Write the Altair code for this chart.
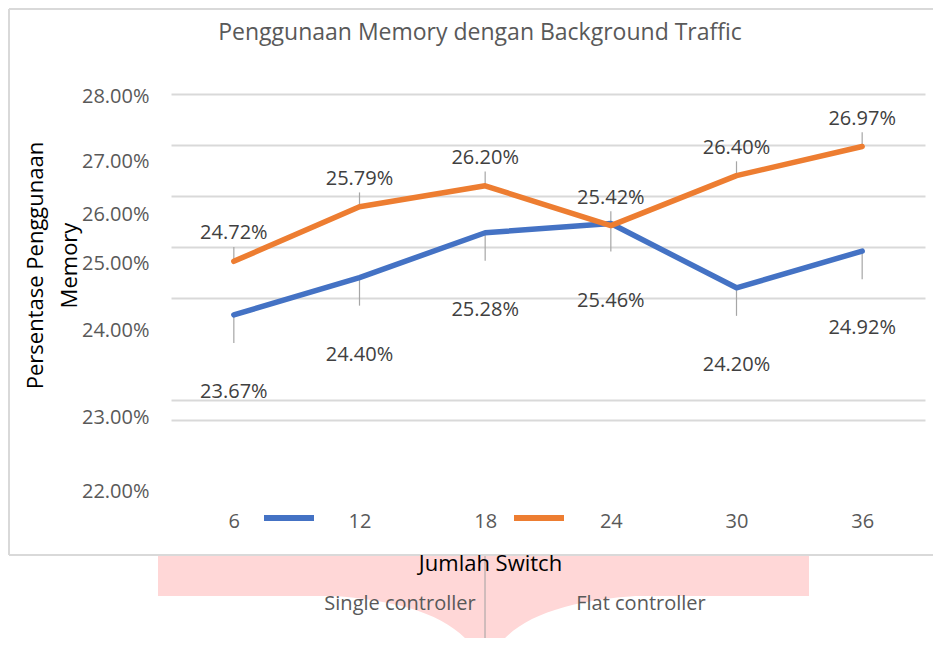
import altair as alt
import pandas as pd

# ---------------- data ----------------
SWITCHES = ["6", "12", "18", "24", "30", "36"]
SERIES = ["Single controller", "Flat controller"]
SINGLE = [23.67, 24.40, 25.28, 25.46, 24.20, 24.92]
FLAT = [24.72, 25.79, 26.20, 25.42, 26.40, 26.97]
Y_TICKS = [22, 23, 24, 25, 26, 27, 28]
TITLE = "Penggunaan Memory dengan Background Traffic"
X_TITLE = "Jumlah Switch"
Y_TITLE = ["Persentase Penggunaan", "Memory"]

rows = []
for s, vals in zip(SERIES, [SINGLE, FLAT]):
    for sw, v in zip(SWITCHES, vals):
        rows.append({"switch": sw, "series": s, "value": v})
df = pd.DataFrame(rows)
one = pd.DataFrame({"k": [0]})

FONT = "Open Sans"
BLUE = "#4472C4"
ORANGE = "#ED7D31"
GRID = "#D9D9D9"
PINK = "#FFD7D7"

W, H = 754, 306

label_offsets = {28: 2, 27: 16, 26: 18, 25: 16, 24: 32, 23: 68, 22: 91}

x_enc = alt.X(
    "switch:O",
    sort=SWITCHES,
    scale=alt.Scale(type="point", padding=0.5),
    axis=alt.Axis(
        title=X_TITLE,
        titleFont=FONT, titleFontSize=22, titleFontWeight="normal", titleColor="#000000",
        titleX=319, titleY=150, titleBaseline="alphabetic", titleAlign="center",
        labelFont=FONT, labelFontSize=20, labelColor="#595959",
        labelAngle=0, labelBaseline="middle", labelPadding=101,
        ticks=False, grid=False, offset=20,
        domainColor=GRID, domainWidth=2, zindex=1,
    ),
)

y_enc = alt.Y(
    "value:Q",
    scale=alt.Scale(domain=[22, 28], nice=False, zero=False),
    axis=alt.Axis(
        values=Y_TICKS,
        labelExpr="format(datum.value, '.2f') + '%'",
        labelFont=FONT, labelFontSize=20, labelColor="#595959",
        labelPadding=22,
        labelOffset={
            "condition": [
                {"test": f"datum.value == {k}", "value": v} for k, v in label_offsets.items()
            ],
            "value": 0,
        },
        domain=False, ticks=False,
        gridColor={"condition": {"test": "datum.value == 23", "value": "transparent"}, "value": GRID},
        gridWidth=2,
        title=Y_TITLE,
        titleFont=FONT, titleFontSize=22, titleFontWeight="normal", titleColor="#000000",
        titleAngle=-90, titleX=-136, titleY=171, titleBaseline="middle", titleAlign="center",
        titleLineHeight=34,
    ),
)

color_enc = alt.Color(
    "series:N",
    scale=alt.Scale(domain=SERIES, range=[BLUE, ORANGE]),
    legend=alt.Legend(
        orient="none", legendX=90, legendY=396, direction="horizontal",
        title=None, symbolType="stroke", symbolSize=2500, symbolStrokeWidth=6,
        labelExpr="''", labelOffset=0, columnPadding=176, padding=0, symbolOffset=0,
        labelFontSize=1,
    ),
)

# chart title (placed like the reference, left of the plot centre)
title_mark = alt.Chart(one).mark_text(
    text=TITLE, font=FONT, fontSize=23, color="#595959", baseline="alphabetic", align="center"
).encode(x=alt.value(309), y=alt.value(-54))

# decorative frame edges and the pink shape below the chart box
frame_left = alt.Chart(one).mark_rule(color=GRID, strokeWidth=2).encode(
    x=alt.value(-162), y=alt.value(-85), y2=alt.value(461)
)
frame_top = alt.Chart(one).mark_rule(color=GRID, strokeWidth=2).encode(
    x=alt.value(-162), x2=alt.value(762), y=alt.value(-85)
)
frame_bottom = alt.Chart(one).mark_rule(color=GRID, strokeWidth=2).encode(
    x=alt.value(-162), x2=alt.value(762), y=alt.value(461)
)
pink_rect = alt.Chart(one).mark_rect(color=PINK).encode(
    x=alt.value(-13), x2=alt.value(638), y=alt.value(462), y2=alt.value(502)
)
FUNNEL = "M -1 -0.03 L 1 -0.03 C 0.45 -0.01 0.12 0.12 0.03 0.36 L -0.03 0.36 C -0.12 0.12 -0.45 -0.01 -1 -0.03 Z"
funnel = alt.Chart(one).mark_point(
    shape=FUNNEL, filled=True, color=PINK, opacity=1, size=115600, strokeWidth=0
).encode(x=alt.value(314), y=alt.value(506))
divider = alt.Chart(one).mark_rule(color="#A0A0A0", strokeWidth=1).encode(
    x=alt.value(314), y=alt.value(462), y2=alt.value(600)
)
lab_single = alt.Chart(one).mark_text(
    text=SERIES[0], font=FONT, fontSize=20, color="#595959", baseline="middle"
).encode(x=alt.value(229), y=alt.value(510))
lab_flat = alt.Chart(one).mark_text(
    text=SERIES[1], font=FONT, fontSize=20, color="#595959", baseline="middle"
).encode(x=alt.value(470), y=alt.value(510))

base = alt.Chart(df)

leaders = base.transform_calculate(
    tip=f"datum.series == '{SERIES[0]}' ? datum.value - 0.55 : datum.value + 0.28"
).mark_rule(color="#A6A6A6", strokeWidth=1.2).encode(
    x=x_enc, y=y_enc, y2="tip:Q"
)

lines = base.mark_line(strokeWidth=5.5, strokeJoin="round", strokeCap="round").encode(
    x=x_enc, y=y_enc, color=color_enc
)

labels_single = base.transform_filter(alt.datum.series == SERIES[0]).transform_calculate(
    txt="format(datum.value, '.2f') + '%'"
).mark_text(font=FONT, fontSize=20, color="#404040", dy=77).encode(
    x=x_enc, y=y_enc, text="txt:N"
)
labels_flat = base.transform_filter(alt.datum.series == SERIES[1]).transform_calculate(
    txt="format(datum.value, '.2f') + '%'"
).mark_text(font=FONT, fontSize=20, color="#404040", dy=-28).encode(
    x=x_enc, y=y_enc, text="txt:N"
)

chart = alt.layer(
    title_mark, frame_left, frame_top, frame_bottom, pink_rect, funnel, divider,
    lab_single, lab_flat, leaders, lines, labels_single, labels_flat,
).properties(
    width=W, height=H,
    padding={"left": 163, "top": 86, "right": 9, "bottom": 238},
    autosize=alt.AutoSizeParams(type="none"),
).configure(background="white").configure_view(stroke=None)

chart.save("out.html", embed_options={"renderer": "svg", "actions": False})
